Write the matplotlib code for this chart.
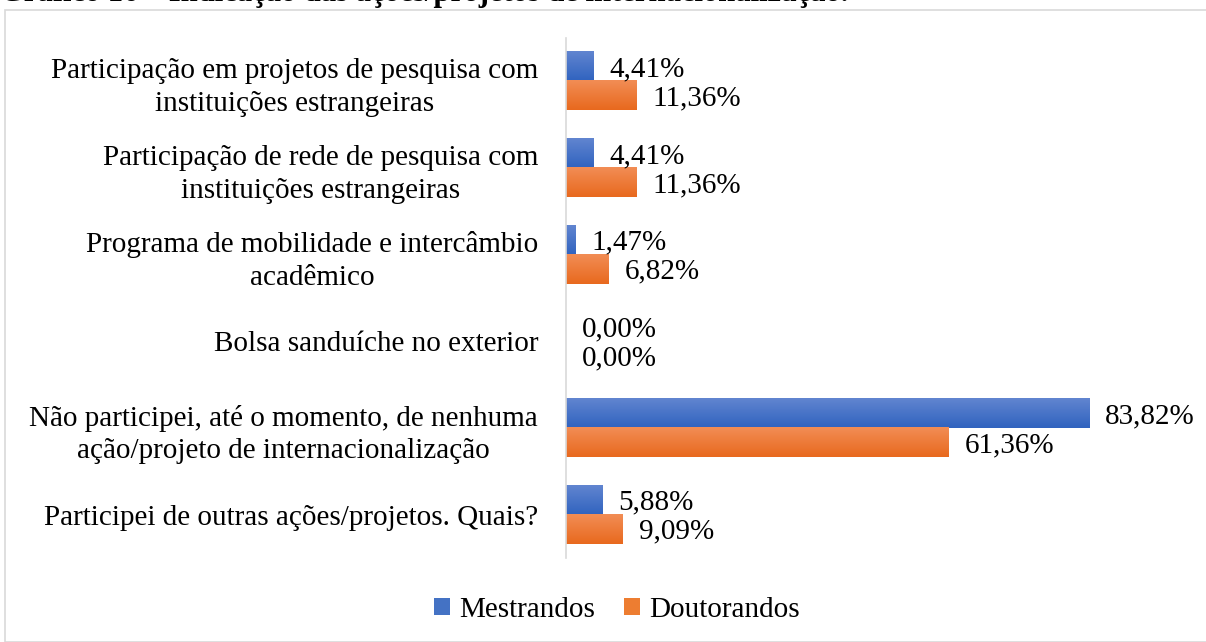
import matplotlib
matplotlib.use("Agg")
import matplotlib.pyplot as plt
import numpy as np
from matplotlib.patches import Rectangle

categories = [
    "Participação em projetos de pesquisa com\ninstituições estrangeiras",
    "Participação de rede de pesquisa com\ninstituições estrangeiras",
    "Programa de mobilidade e intercâmbio\nacadêmico",
    "Bolsa sanduíche no exterior",
    "Não participei, até o momento, de nenhuma\nação/projeto de internacionalização",
    "Participei de outras ações/projetos. Quais?",
]
mestrandos = [4.41, 4.41, 1.47, 0.00, 83.82, 5.88]
doutorandos = [11.36, 11.36, 6.82, 0.00, 61.36, 9.09]
series_names = ["Mestrandos", "Doutorandos"]
title = "Gráfico 16 – Indicação das ações/projetos de internacionalização."

W, H = 1206, 642
fig = plt.figure(figsize=(W / 100, H / 100), dpi=100)
plt.rcParams['font.family'] = ['Liberation Serif', 'DejaVu Serif']

FS = 21

# outer chart border
fig.patches.append(Rectangle((5 / W, 0), 1.2, 1 - 10 / H, transform=fig.transFigure,
                             fill=False, edgecolor='#d9d9d9', linewidth=1.2))

fig.text(0 / W, 1 - 1 / H, title, fontsize=22, fontweight='bold',
         ha='left', va='baseline', color='black')

ax = fig.add_axes([566 / W, 1 - 558 / H, (1190 - 566) / W, (558 - 38) / H])

n = len(categories)
y = np.arange(n)
bh = 0.335
blue = '#4472C4'
orange = '#ED7D31'

b1 = ax.barh(y - bh / 2, mestrandos, height=bh, color=blue, label=series_names[0])
b2 = ax.barh(y + bh / 2, doutorandos, height=bh, color=orange, label=series_names[1])

# gradient overlay
def add_gradient(bars, top_col, bot_col):
    for r in bars:
        w = r.get_width()
        if w <= 0:
            continue
        x0 = r.get_x()
        y0 = r.get_y()
        h = r.get_height()
        grad = np.linspace(0, 1, 50).reshape(-1, 1)
        tc = np.array(matplotlib.colors.to_rgb(top_col))
        bc = np.array(matplotlib.colors.to_rgb(bot_col))
        img = tc[None, None, :] * (1 - grad[:, :, None]) + bc[None, None, :] * grad[:, :, None]
        ax.imshow(img, extent=(x0, x0 + w, y0 + h, y0), aspect='auto', zorder=2,
                  origin='upper', interpolation='bilinear')

add_gradient(b1, '#6185D0', '#3063BF')
add_gradient(b2, '#F28D55', '#E8691E')

for vals, off in ((mestrandos, -bh / 2), (doutorandos, bh / 2)):
    for i, v in enumerate(vals):
        ax.annotate(f"{v:.2f}%".replace('.', ','), (v, i + off + 0.03), xytext=(11.5, 0),
                    textcoords='offset points', ha='left', va='center', fontsize=FS)

ax.set_xlim(0, 100)
ax.set_ylim(n - 0.5, -0.5)
ax.set_yticks(y)
ax.set_yticklabels(categories, fontsize=FS, multialignment='center', linespacing=1.35)
ax.tick_params(axis='y', length=0, pad=20)
ax.set_xticks([])
for s in ('top', 'right', 'bottom'):
    ax.spines[s].set_visible(False)
ax.spines['left'].set_color('#d9d9d9')
ax.spines['left'].set_linewidth(1.2)

leg = fig.legend(handles=[b1, b2], labels=series_names, loc='center',
                 bbox_to_anchor=(617 / W, 1 - 610 / H), ncol=2, frameon=False,
                 fontsize=FS, handlelength=0.55, handleheight=0.55, handletextpad=0.3,
                 columnspacing=1.0)

fig.savefig('out.png', dpi=100)
